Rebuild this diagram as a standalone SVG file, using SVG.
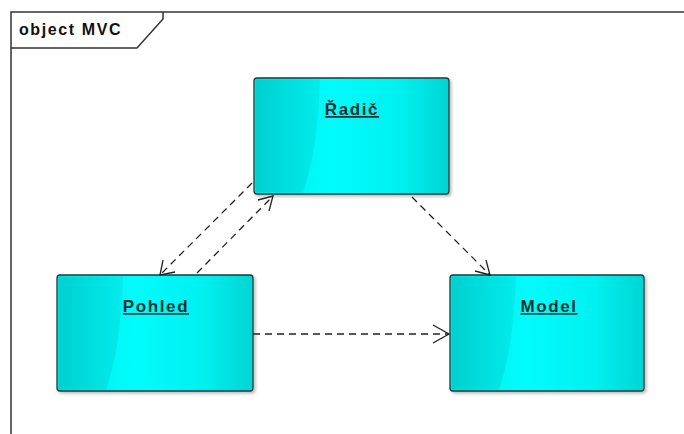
<svg xmlns="http://www.w3.org/2000/svg" width="684" height="434" viewBox="0 0 684 434">
<style>
.frame{fill:none;stroke:#333;stroke-width:1.5}
.node{stroke:#1d3b3b;stroke-width:1.3;fill:url(#g)}
.sheen{fill:url(#g2);opacity:0.75}
.lbl{font-family:"Liberation Sans",Arial,sans-serif;font-weight:bold;font-size:17px;letter-spacing:1.6px;fill:#1a3030;text-anchor:middle;text-decoration:underline}
.title{font-family:"Liberation Sans",Arial,sans-serif;font-weight:bold;font-size:16px;letter-spacing:1.6px;fill:#111}
.dep{fill:none;stroke:#222;stroke-width:1.3;stroke-dasharray:7,5}
.head{fill:none;stroke:#222;stroke-width:1.3}
</style>
<defs>
<linearGradient id="g" x1="0" y1="0" x2="1" y2="0">
<stop offset="0" stop-color="#00ecec"/>
<stop offset="0.4" stop-color="#00fcfc"/>
<stop offset="0.75" stop-color="#00f0f0"/>
<stop offset="1" stop-color="#00d4d4"/>
</linearGradient>
<linearGradient id="g2" x1="0" y1="0" x2="1" y2="0">
<stop offset="0" stop-color="#00c6c6"/>
<stop offset="1" stop-color="#00e8e8"/>
</linearGradient>
<filter id="sh" x="-10%" y="-10%" width="130%" height="130%">
<feDropShadow dx="2" dy="2" stdDeviation="1.5" flood-color="#000" flood-opacity="0.25"/>
</filter>
</defs>
<rect width="684" height="434" fill="#fff"/>
<g id="frame">
<path class="frame" d="M11,440 V12 H690"/>
<path class="frame" d="M11,48 H137 L163,19 V12"/>
<text class="title" x="19" y="35">object MVC</text>
</g>
<g id="radic">
<rect class="node" x="254" y="78" width="195" height="116" rx="3" filter="url(#sh)"/>
<path class="sheen" d="M255.5,79.5 H320 Q318,150 303,192.5 H255.5 Z"/>
<text class="lbl" x="352" y="115">Řadič</text>
</g>
<g id="pohled">
<rect class="node" x="57" y="275" width="196" height="116" rx="3" filter="url(#sh)"/>
<path class="sheen" d="M58.5,276.5 H123 Q121,347 106,389.5 H58.5 Z"/>
<text class="lbl" x="156" y="312">Pohled</text>
</g>
<g id="model">
<rect class="node" x="450" y="275" width="194" height="116" rx="3" filter="url(#sh)"/>
<path class="sheen" d="M451.5,276.5 H516 Q514,347 499,389.5 H451.5 Z"/>
<text class="lbl" x="549" y="312">Model</text>
</g>
<g id="connectors">
<path class="dep" d="M252,183 L160,275"/>
<path class="head" d="M163,260 L160,275 L175,272"/>
<path class="dep" d="M197,273 L273,196"/>
<path class="head" d="M258,200 L273,196 L269,211"/>
<path class="dep" d="M412,197 L490,275"/>
<path class="head" d="M475,271 L490,275 L486,260"/>
<path class="dep" d="M253,334 L449,334"/>
<path class="head" d="M433,325 L449,334 L433,343"/>
</g>
</svg>
